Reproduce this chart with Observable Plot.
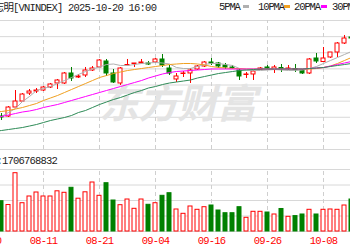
<!DOCTYPE html>
<html><head><meta charset="utf-8">
<script src="https://cdn.jsdelivr.net/npm/d3@7"></script>
<script src="https://cdn.jsdelivr.net/npm/@observablehq/plot@0.6"></script>
<style>
html,body{margin:0;padding:0;background:#fff;}
body{width:350px;height:250px;overflow:hidden;position:relative;font-family:"Liberation Mono","Noto Sans CJK SC",monospace;}
.row{position:relative;width:350px;height:19px;overflow:hidden;}
.t{position:absolute;font-size:10.5px;letter-spacing:-0.8px;white-space:nowrap;color:#222;line-height:12px;}
.lg{letter-spacing:-1.1px;}
.sw{position:absolute;top:5px;width:6px;height:3px;}
svg{display:block;}
</style></head><body>
<div class="row" id="hdr"></div>
<div id="main"></div>
<div class="row" id="vh"></div>
<div id="vol"></div>
<script>
// ---- data ----
const dates = ["07-30","07-31","08-01","08-04","08-05","08-06","08-07","08-08","08-11","08-12","08-13","08-14","08-15","08-18","08-19","08-20","08-21","08-22","08-25","08-26","08-27","08-28","08-29","09-03","09-04","09-05","09-08","09-09","09-10","09-11","09-12","09-15","09-16","09-17","09-18","09-19","09-22","09-23","09-24","09-25","09-26","09-29","09-30","10-01","10-02","10-03","10-06","10-07","10-08","10-09","10-10","10-13","10-14"];
const open = [null,null,1502.3,1502.3,1530.2,1548.8,1573.6,1579.8,1582.9,1592.2,1604.7,1604.7,1635.7,1623.3,1629.5,1645.0,1654.3,1672.9,1635.7,1604.7,1660.5,1665.1,1666.7,1666.7,1669.8,1679.1,1651.2,1617.1,1634.1,1635.7,1648.1,1657.4,1669.8,1666.7,1660.5,1654.3,1645.0,1631.0,1632.6,1646.5,1654.3,1646.5,1652.7,1649.6,1649.6,1645.0,1635.7,1682.2,1671.3,1685.3,1700.8,1728.7,1747.3];
const close = [null,null,1499.2,1530.2,1548.8,1570.5,1579.8,1582.9,1592.2,1601.6,1614.0,1635.7,1620.2,1626.4,1645.0,1651.2,1676.0,1635.7,1607.8,1651.2,1662.0,1666.7,1669.8,1663.6,1679.1,1660.5,1635.7,1626.4,1635.7,1645.0,1657.4,1669.8,1666.7,1657.4,1654.3,1651.2,1626.4,1632.6,1641.9,1651.2,1651.2,1654.3,1649.6,1651.2,1646.5,1635.7,1679.1,1672.9,1682.2,1700.8,1728.7,1744.2,1744.2];
const high = [null,null,1511.6,1533.3,1582.9,1573.6,1586.0,1589.1,1595.4,1604.7,1617.1,1638.8,1654.3,1632.6,1654.3,1657.4,1679.1,1679.1,1648.1,1654.3,1679.1,1666.7,1679.1,1672.9,1682.2,1694.6,1660.5,1635.7,1641.9,1651.2,1660.5,1672.9,1682.2,1669.8,1666.7,1660.5,1651.2,1638.8,1645.0,1654.3,1660.5,1660.5,1663.6,1660.5,1663.6,1648.1,1682.2,1697.7,1716.3,1700.8,1731.8,1753.5,1753.5];
const low = [null,null,1489.9,1499.2,1530.2,1548.8,1567.4,1573.6,1579.8,1589.1,1586.0,1601.6,1610.9,1620.2,1623.3,1641.9,1654.3,1626.4,1604.7,1598.5,1660.5,1654.3,1666.7,1660.5,1666.7,1654.3,1629.5,1607.8,1623.3,1604.7,1645.0,1654.3,1660.5,1651.2,1648.1,1648.1,1614.0,1620.2,1614.0,1645.0,1648.1,1635.7,1638.8,1645.0,1638.8,1632.6,1632.6,1666.7,1669.8,1682.2,1685.3,1725.6,1722.5];
const volume = [null,null,1466,1282,2821,1369,1694,1887,1694,1694,1945,1873,2115,1587,1897,2371,1727,2337,1500,1273,1548,1098,1548,1292,1369,1727,1853,1065,856,1210,1050,1176,1258,1016,885,885,1176,663,953,953,919,823,1089,711,745,823,1050,823,1050,1065,1050,1258,1548];
const ma5 = [null,1492.0,1502.3,1514.7,1527.1,1548.8,1564.3,1582.9,1589.1,1595.3,1604.6,1613.9,1623.2,1632.5,1641.9,1649.6,1655.8,1663.5,1665.1,1660.5,1660.5,1663.5,1666.7,1668.2,1669.8,1668.2,1665.1,1654.3,1651.1,1651.1,1657.4,1663.5,1666.7,1666.7,1663.5,1660.5,1651.1,1646.5,1644.9,1644.9,1646.5,1648.0,1646.5,1644.9,1644.9,1646.5,1651.1,1657.4,1666.7,1676.0,1685.3,1694.6,1703.9];
const ma10 = [null,1516.0,1517.8,1520.9,1525.6,1530.2,1536.4,1542.6,1551.9,1559.7,1567.4,1576.7,1586.0,1595.3,1604.6,1613.9,1623.2,1629.4,1635.6,1640.3,1644.9,1648.0,1651.1,1654.2,1657.3,1660.4,1663.5,1665.1,1666.7,1666.7,1665.1,1662.0,1657.4,1654.2,1652.7,1651.1,1651.1,1649.6,1649.6,1649.6,1649.6,1649.6,1649.6,1649.6,1649.6,1649.6,1649.6,1651.1,1654.2,1658.9,1666.7,1676.0,1685.3];
const ma20 = [null,1499.0,1502.3,1507.0,1511.6,1516.3,1519.4,1524.0,1530.2,1534.9,1539.5,1545.7,1551.9,1558.1,1564.3,1570.5,1576.7,1582.9,1589.1,1595.3,1601.5,1607.7,1613.9,1621.7,1627.9,1634.1,1638.7,1641.9,1643.4,1644.9,1646.5,1648.0,1649.6,1649.6,1649.6,1649.6,1649.6,1649.6,1649.6,1649.6,1649.6,1649.6,1649.6,1649.6,1649.6,1649.6,1651.1,1652.7,1654.2,1658.9,1663.5,1668.2,1672.9];
const ma30 = [null,1456.0,1458.9,1462.0,1465.1,1468.2,1472.8,1477.5,1483.7,1489.9,1494.6,1499.2,1505.4,1514.7,1520.9,1530.2,1539.5,1547.3,1555.0,1561.2,1569.0,1576.7,1582.9,1590.7,1595.3,1601.5,1606.2,1609.3,1612.4,1615.5,1621.7,1626.3,1631.0,1635.6,1638.7,1641.8,1644.9,1646.5,1648.0,1649.6,1649.6,1649.6,1649.6,1649.6,1649.6,1649.6,1651.1,1652.7,1654.2,1657.4,1660.5,1663.5,1666.7];
const tickLabels = ["07-30","08-11","08-21","09-04","09-16","09-26","10-08"];
const priceGrid = [1400,1450,1500,1550,1600,1650,1700,1750,1800];
const volGrid = [0,750,1500,2250,3000];
const title = "胡志明[VNINDEX] 2025-10-20 16:00";
const legendNames = ["5PMA","10PMA","20PMA","30PMA"];
const legendColors = ["#b0b0b0","#f0a020","#ff00ff","#2e8b57"];
const volTitle = "成交量:1706768832";
const watermark = "东方财富";

// ---- styles ----
const RED = "#ff0000", GREEN = "#008000", GRID = "#d8d8d8";
const FONT = {fontFamily: "Liberation Mono, Noto Sans CJK SC, monospace", fontSize: "10.5px", letterSpacing: "-0.8px", background: "#fff"};

// header row
const hdr = document.getElementById("hdr");
const tt = document.createElement("span");
tt.className = "t"; tt.style.left = "-16px"; tt.style.top = "2px"; tt.textContent = title;
hdr.appendChild(tt);
const lgText = [219, 258, 294, 332];
const lgSw = [243, 284, 321, 360];
legendNames.forEach((n, k) => {
  const s = document.createElement("span");
  s.className = "t lg"; s.style.left = lgText[k] + "px"; s.style.top = "1px"; s.textContent = n;
  hdr.appendChild(s);
  const w = document.createElement("span");
  w.className = "sw"; w.style.left = lgSw[k] + "px"; w.style.background = legendColors[k];
  hdr.appendChild(w);
});

// rows
const rows = d3.range(dates.length).filter(i => open[i] != null).map(i => ({
  i, o: open[i], h: high[i], l: low[i], c: close[i], v: volume[i], up: close[i] >= open[i]
}));
const ups = rows.filter(d => d.up), downs = rows.filter(d => !d.up);
const first = dates.indexOf("08-01");
const xs = {type: "linear", domain: [first - 1/7, first + 349/7], range: [0, 350], axis: null};
const tickIdx = tickLabels.map(t => dates.indexOf(t));
const bw = 2/7;

const I = d3.range(dates.length);
const maLine = (arr, color) => Plot.line(I, {x: i => i, y: i => arr[i], stroke: color, strokeWidth: 1});

const main = Plot.plot({
  width: 350, height: 131, marginTop: 1, marginBottom: 1, marginLeft: 0, marginRight: 0,
  x: xs,
  y: {domain: [1400, 1800], range: [130, 1], axis: null},
  style: FONT,
  marks: [
    Plot.ruleY(priceGrid, {stroke: GRID}),
    Plot.ruleX(tickIdx, {y1: 1400, y2: 1800, stroke: "#cfcfcf", strokeDasharray: "4,3"}),
    Plot.text([watermark], {frameAnchor: "middle", dx: 2, dy: 20, text: d => d, fontSize: 40, fontWeight: "bold", fontStyle: "italic", fill: "#e4e4e4", fontFamily: "Noto Sans CJK SC"}),
    Plot.ruleX(downs, {x: "i", y1: "l", y2: "h", stroke: GREEN}),
    Plot.ruleX(ups, {x: "i", y1: "c", y2: "h", stroke: RED}),
    Plot.ruleX(ups, {x: "i", y1: "l", y2: "o", stroke: RED}),
    Plot.rect(rows, {x1: d => d.i - bw, x2: d => d.i + bw, y1: "o", y2: "c", fill: d => d.up ? "#fff" : GREEN, stroke: d => d.up ? RED : GREEN}),
    maLine(ma5, legendColors[0]),
    maLine(ma10, legendColors[1]),
    maLine(ma20, legendColors[2]),
    maLine(ma30, legendColors[3])
  ]
});
document.getElementById("main").appendChild(main);

// volume header
const vh = document.getElementById("vh");
const vt = document.createElement("span");
vt.className = "t"; vt.style.right = "293px"; vt.style.top = "5px"; vt.textContent = volTitle;
vh.appendChild(vt);

const vol = Plot.plot({
  width: 350, height: 81, marginTop: 0, marginBottom: 19, marginLeft: 0, marginRight: 0,
  x: xs,
  y: {domain: [0, 3000], axis: null},
  style: FONT,
  marks: [
    Plot.ruleY(volGrid, {stroke: GRID}),
    Plot.ruleX(tickIdx, {y1: 0, y2: 3000, stroke: "#cfcfcf", strokeDasharray: "4,3"}),
    Plot.rect(rows, {x1: d => d.i - bw, x2: d => d.i + bw, y1: 0, y2: "v", fill: d => d.up ? "#fff" : GREEN, stroke: d => d.up ? RED : GREEN}),
    Plot.axisX(tickIdx, {tickSize: 0, tickPadding: 5, tickFormat: i => dates[i], fill: RED})
  ]
});
document.getElementById("vol").appendChild(vol);
</script>
</body></html>
